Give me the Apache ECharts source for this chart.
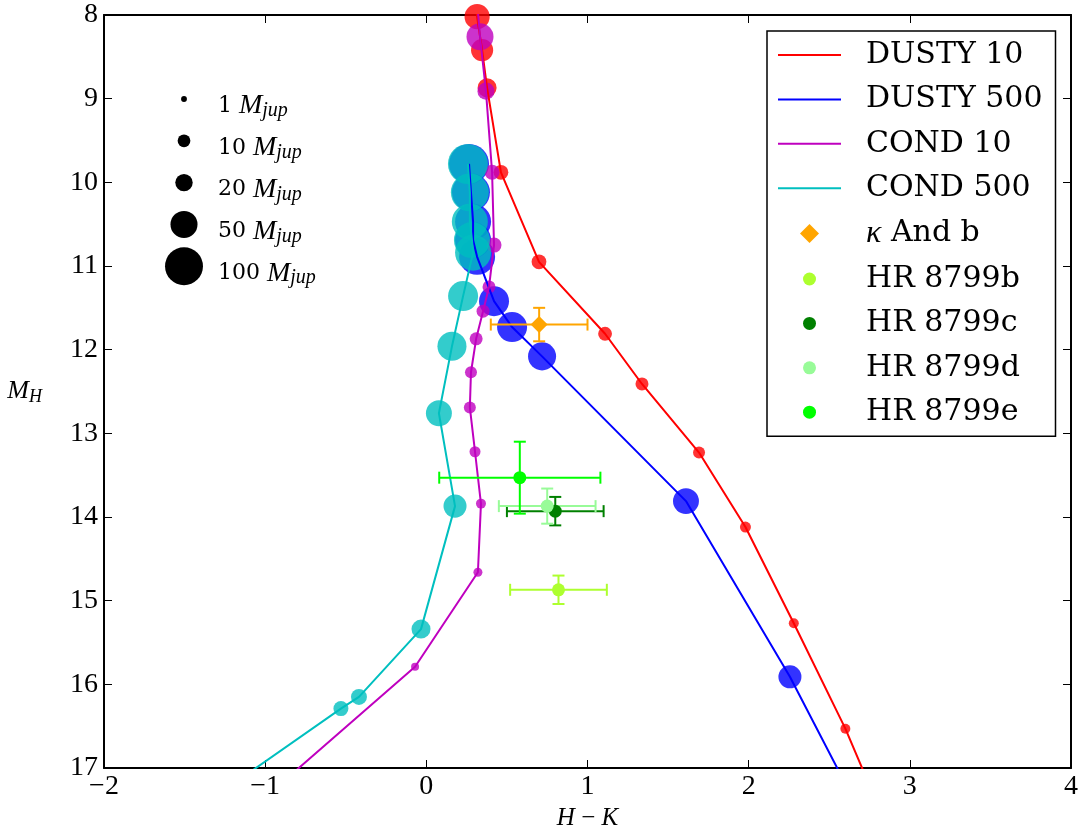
<!DOCTYPE html>
<html><head><meta charset="utf-8">
<script src="https://cdn.jsdelivr.net/npm/echarts/dist/echarts.min.js"></script>
<style>html,body{margin:0;padding:0;background:#fff}#c{width:1081px;height:829px}</style>
</head><body><div id="c"></div>
<script>
// ---------- data ----------
// Model tracks: H-K colour, M_H absolute magnitude, mass (M_jup) of each model point (null = no marker)
const dusty10HK   = [0.30, 0.315, 0.346, 0.377, 0.463, 0.699, 1.109, 1.338, 1.692, 1.98, 2.28, 2.60, 2.77];
const dusty10MH   = [7.70, 8.02, 8.42, 8.87, 9.88, 10.95, 11.81, 12.41, 13.23, 14.12, 15.27, 16.53, 17.30];
const dusty10Mass = [null, 43, 33, 24, 14, 14, 12, 10.5, 8.7, 7.1, 5.6, 5.6, null];

const dusty500HK   = [0.265, 0.277, 0.29, 0.29, 0.315, 0.42, 0.532, 0.718, 1.611, 2.256, 2.63];
const dusty500MH   = [9.78, 10.12, 10.47, 10.69, 10.89, 11.42, 11.73, 12.08, 13.81, 15.91, 17.30];
const dusty500Mass = [111, 100, 90, 90, 90, 62, 62, 54, 46, 36, null];

const cond10HK   = [0.309, 0.333, 0.37, 0.408, 0.42, 0.389, 0.352, 0.309, 0.277, 0.27, 0.302, 0.339, 0.32, -0.07, -0.97];
const cond10MH   = [7.70, 8.26, 8.91, 9.88, 10.75, 11.25, 11.54, 11.87, 12.27, 12.69, 13.22, 13.84, 14.66, 15.79, 17.30];
const cond10Mass = [null, 50, 19, 14.4, 14.4, 10.5, 10.5, 10.5, 8.7, 8.7, 7.1, 5.6, 4.3, 3.1, null];

const cond500HK   = [0.258, 0.27, 0.27, 0.283, 0.29, 0.228, 0.159, 0.078, 0.178, -0.033, -0.418, -0.53, -1.28];
const cond500MH   = [9.78, 10.12, 10.47, 10.69, 10.84, 11.36, 11.96, 12.76, 13.87, 15.34, 16.15, 16.29, 17.30];
const cond500Mass = [111, 100, 90, 90, 90, 62, 58, 46, 36, 24, 16.6, 14.4, null];

// Observed objects
const objNames = ['κ And b', 'HR 8799b', 'HR 8799c', 'HR 8799d', 'HR 8799e'];
const objHK    = [0.70, 0.82, 0.80, 0.75, 0.58];
const objHKErr = [0.30, 0.30, 0.30, 0.30, 0.50];
const objMH    = [11.70, 14.87, 13.93, 13.87, 13.53];
const objMHErr = [0.20, 0.17, 0.17, 0.21, 0.43];

// Mass key
const massKey = [1, 10, 20, 50, 100];

// ---------- styles ----------
const modelNames  = ['DUSTY 10', 'DUSTY 500', 'COND 10', 'COND 500'];
const modelColors = ['#ff0000', '#0000ff', '#bf00bf', '#00bfbf'];
const objColors   = ['#ffa500', '#adff2f', '#008000', '#98fb98', '#00ff00'];
const massToSize = m => Math.sqrt(14.2 * m + 20);

const models = [
  [dusty10HK, dusty10MH, dusty10Mass],
  [dusty500HK, dusty500MH, dusty500Mass],
  [cond10HK, cond10MH, cond10Mass],
  [cond500HK, cond500MH, cond500Mass]
];

const series = [];
models.forEach((m, k) => {
  series.push({
    type: 'scatter', name: modelNames[k] + ' masses', silent: true, z: 2,
    data: m[0].map((v, i) => [v, m[1][i], m[2][i]]).filter(d => d[2] != null),
    symbol: 'circle', symbolSize: v => massToSize(v[2]),
    itemStyle: { color: modelColors[k], opacity: 0.8 }
  });
});
models.forEach((m, k) => {
  series.push({
    type: 'line', name: modelNames[k], silent: true, z: 3, clip: true,
    data: m[0].map((v, i) => [v, m[1][i]]),
    symbol: 'none', color: modelColors[k],
    lineStyle: { color: modelColors[k], width: 2 }
  });
});
series.push({
  type: 'custom', name: 'errorbars', silent: true, z: 4,
  encode: { x: 0, y: 1 },
  data: objHK.map((v, i) => [v, objMH[i], objHKErr[i], objMHErr[i]]),
  renderItem: (params, api) => {
    const x = api.value(0), y = api.value(1), ex = api.value(2), ey = api.value(3);
    const L = api.coord([x - ex, y]), R = api.coord([x + ex, y]);
    const T = api.coord([x, y - ey]), B = api.coord([x, y + ey]);
    const st = { stroke: objColors[params.dataIndex], lineWidth: 2 };
    const cap = 6;
    const ln = (x1, y1, x2, y2) => ({ type: 'line', shape: { x1, y1, x2, y2 }, style: st });
    return { type: 'group', children: [
      ln(L[0], L[1], R[0], R[1]), ln(T[0], T[1], B[0], B[1]),
      ln(L[0], L[1] - cap, L[0], L[1] + cap), ln(R[0], R[1] - cap, R[0], R[1] + cap),
      ln(T[0] - cap, T[1], T[0] + cap, T[1]), ln(B[0] - cap, B[1], B[0] + cap, B[1])
    ]};
  }
});
objNames.forEach((n, i) => {
  series.push({
    type: 'scatter', name: n, z: 5, silent: true,
    data: [[objHK[i], objMH[i]]],
    symbol: i === 0 ? 'diamond' : 'circle', symbolSize: i === 0 ? 17 : 13,
    itemStyle: { color: objColors[i], opacity: 1 }
  });
});

const lineIcon = 'path://M0,0 M63,19 M0,8.5 L63,8.5 L63,10.5 L0,10.5 Z';
const circIcon = 'path://M0,0 M63,19 M25,9.5 A6.5,6.5 0 1,0 38,9.5 A6.5,6.5 0 1,0 25,9.5 Z';
const diamIcon = 'path://M0,0 M63,19 M31.5,0 L41,9.5 L31.5,19 L22,9.5 Z';

const fmt = v => String(v).replace('-', '\u2212');
const axisCommon = {
  axisLine: { show: true, onZero: false, lineStyle: { color: '#000', width: 2 } },
  axisTick: { show: true, inside: true, length: 8, lineStyle: { color: '#000', width: 1 } },
  splitLine: { show: false }
};
const tickFont = { fontFamily: 'Liberation Serif', fontSize: 28, color: '#000' };

const graphic = [];
massKey.forEach((m, i) => {
  const cy = 99 + i * 41.8;
  graphic.push({ type: 'circle', silent: true, shape: { cx: 184, cy: cy, r: massToSize(m) / 2 }, style: { fill: '#000' } });
  graphic.push({ type: 'text', silent: true, x: 218, y: cy + 7, style: {
    text: '{n|' + m + ' }{M|M}{s|jup}', verticalAlign: 'middle', align: 'left',
    rich: {
      n: { fontFamily: 'DejaVu Serif', fontSize: 22, lineHeight: 30, fill: '#000' },
      M: { fontFamily: 'Liberation Serif', fontStyle: 'italic', fontSize: 28, lineHeight: 30, fill: '#000' },
      s: { fontFamily: 'Liberation Serif', fontStyle: 'italic', fontSize: 20, lineHeight: 12, verticalAlign: 'bottom', fill: '#000' }
    }
  }});
});

const option = {
  animation: false,
  backgroundColor: '#fff',
  grid: { left: 104, right: 10, top: 15, bottom: 61, containLabel: false, outerBoundsMode: 'none' },
  xAxis: [
    Object.assign({}, axisCommon, {
      type: 'value', position: 'bottom', min: -2, max: 4, interval: 1,
      axisLabel: Object.assign({ formatter: fmt, margin: 5 }, tickFont),
      name: '{i|H} \u2212 {i|K}', nameLocation: 'middle', nameGap: 32,
      nameTextStyle: { fontFamily: 'Liberation Serif', fontSize: 25, color: '#000',
        rich: { i: { fontFamily: 'Liberation Serif', fontStyle: 'italic', fontSize: 25, color: '#000' } } }
    }),
    Object.assign({}, axisCommon, {
      type: 'value', position: 'top', min: -2, max: 4, interval: 1, axisLabel: { show: false }
    })
  ],
  yAxis: [
    Object.assign({}, axisCommon, {
      type: 'value', position: 'left', min: 8, max: 17, interval: 1, inverse: true,
      axisLabel: Object.assign({ formatter: fmt, margin: 6 }, tickFont),
      name: '{m|M}{s|H}', nameLocation: 'middle', nameRotate: 0, nameGap: 62,
      nameTextStyle: { color: '#000',
        rich: {
          m: { fontFamily: 'Liberation Serif', fontStyle: 'italic', fontSize: 26, lineHeight: 30, color: '#000' },
          s: { fontFamily: 'Liberation Serif', fontStyle: 'italic', fontSize: 18, lineHeight: 14, verticalAlign: 'bottom', color: '#000' }
        } }
    }),
    Object.assign({}, axisCommon, {
      type: 'value', position: 'right', min: 8, max: 17, interval: 1, inverse: true, axisLabel: { show: false }
    })
  ],
  legend: {
    orient: 'vertical', left: 767, top: 31, padding: [9, 13, 9, 11], itemGap: 14.4,
    itemWidth: 63, itemHeight: 19, symbolKeepAspect: true, selectedMode: false,
    borderColor: '#000', borderWidth: 1.5, borderRadius: 0, backgroundColor: '#fff',
    itemStyle: { borderWidth: 0 },
    textStyle: { fontFamily: 'DejaVu Serif', fontSize: 30, color: '#000', lineHeight: 30, padding: [0, 0, 0, 20],
      rich: { k: { fontFamily: 'Liberation Serif', fontStyle: 'italic', fontSize: 32, color: '#000' } } },
    formatter: n => n === 'κ And b' ? '{k|κ} And b' : n,
    data: modelNames.map(n => ({ name: n, icon: lineIcon }))
      .concat(objNames.map((n, i) => ({ name: n, icon: i === 0 ? diamIcon : circIcon })))
  },
  graphic: graphic,
  series: series
};

const chart = echarts.init(document.getElementById('c'), null, { renderer: 'canvas' });
chart.setOption(option);
</script></body></html>
